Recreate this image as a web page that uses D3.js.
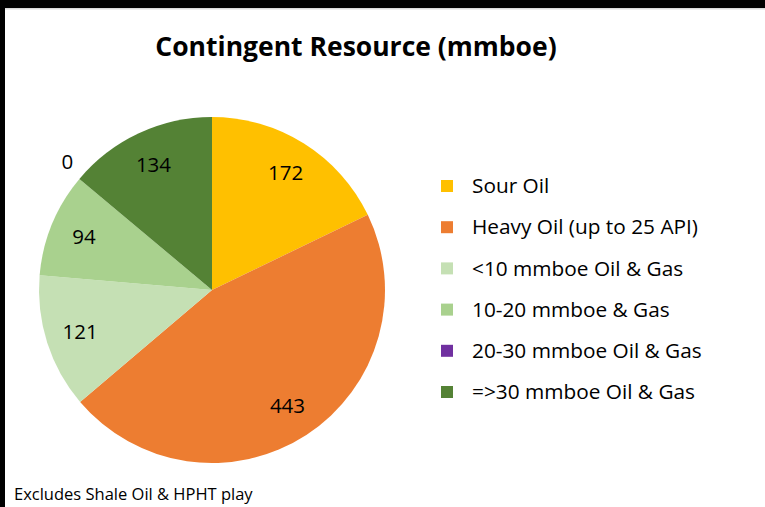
<!DOCTYPE html>
<html>
<head>
<meta charset="utf-8">
<script src="https://cdn.jsdelivr.net/npm/d3@7"></script>
<style>
  body { margin: 0; background: #fff; }
  text { font-family: "Open Sans", "Noto Sans", sans-serif; fill: #000; }
</style>
</head>
<body>
<svg width="765" height="507"></svg>
<script>
// chart data
var categories = ["Sour Oil", "Heavy Oil (up to 25 API)", "<10 mmboe Oil & Gas",
                  "10-20 mmboe & Gas", "20-30 mmboe Oil & Gas", "=>30 mmboe Oil & Gas"];
var values = [172, 443, 121, 94, 0, 134];
var colors = ["#FFC000", "#ED7D31", "#C5E0B4", "#A9D18E", "#7030A0", "#548235"];

var svg = d3.select("svg"),
    width = +svg.attr("width"),
    height = +svg.attr("height");

// frame: black bands top and left, thin grey rule
svg.append("rect").attr("x", 0).attr("y", 0).attr("width", width).attr("height", 8).attr("fill", "#000");
svg.append("rect").attr("x", 0).attr("y", 0).attr("width", 5).attr("height", height).attr("fill", "#000");
svg.append("rect").attr("x", 5).attr("y", 8).attr("width", width - 5).attr("height", 1.5).attr("fill", "#d9d9d9");

//title
svg.append("text")
    .attr("x", 356).attr("y", 56)
    .attr("text-anchor", "middle")
    .style("font-size", "26.5px")
    .style("font-weight", "bold")
    .text("Contingent Resource (mmboe)");

var cx = 212, cy = 290, r = 173;

var pie = d3.pie().sort(null).value(function(d) { return d; });
var arcs = pie(values);

var arc = d3.arc().innerRadius(0).outerRadius(r);
var labelArc = d3.arc().innerRadius(r * 0.8).outerRadius(r * 0.8);
var outerArc = d3.arc().innerRadius(r * 1.12).outerRadius(r * 1.12);

var g = svg.append("g").attr("transform", "translate(" + cx + "," + cy + ")");

g.selectAll("path")
    .data(arcs)
    .enter().append("path")
    .attr("d", arc)
    .attr("fill", function(d, i) { return colors[i]; });

g.selectAll("text.lbl")
    .data(arcs)
    .enter().append("text")
    .attr("class", "lbl")
    .attr("transform", function(d) {
        var p = d.value === 0 ? outerArc.centroid(d) : labelArc.centroid(d);
        if (d.value === 0) { p[0] += 4; p[1] -= 4; }
        return "translate(" + p + ")";
    })
    .attr("text-anchor", "middle")
    .attr("dy", "0.35em")
    .style("font-size", "20.5px")
    .text(function(d) { return d.value; });

//legend
var legend = svg.append("g").attr("transform", "translate(441,186)");
var rows = legend.selectAll("g")
    .data(categories)
    .enter().append("g")
    .attr("transform", function(d, i) { return "translate(0," + (i * 41.2) + ")"; });

rows.append("rect")
    .attr("x", 0).attr("y", -6)
    .attr("width", 12).attr("height", 12)
    .attr("fill", function(d, i) { return colors[i]; });

rows.append("text")
    .attr("x", 31).attr("dy", "0.35em")
    .style("font-size", "20.8px")
    .text(function(d) { return d; });

//footnote
svg.append("text")
    .attr("x", 14).attr("y", 500)
    .style("font-size", "16.5px")
    .text("Excludes Shale Oil & HPHT play");
</script>
</body>
</html>
